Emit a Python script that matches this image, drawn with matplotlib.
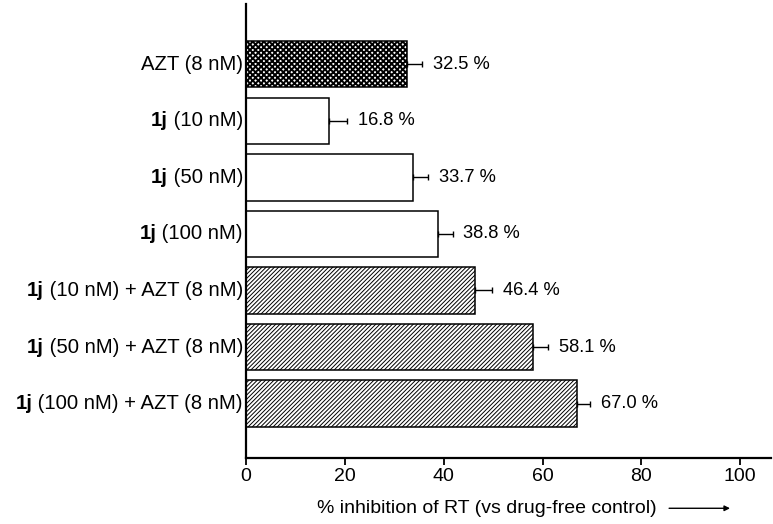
import numpy as np
import matplotlib
matplotlib.use('Agg')
import matplotlib.pyplot as plt
from matplotlib.transforms import offset_copy

plt.rcParams['font.family'] = ['Liberation Sans', 'DejaVu Sans']
plt.rcParams['hatch.linewidth'] = 0.7

# ---- data ----
bold_parts = ['', '1j', '1j', '1j', '1j', '1j', '1j']
label_rest = [
    'AZT (8 nM)',
    ' (10 nM)',
    ' (50 nM)',
    ' (100 nM)',
    ' (10 nM) + AZT (8 nM)',
    ' (50 nM) + AZT (8 nM)',
    ' (100 nM) + AZT (8 nM)',
]
values = [32.5, 16.8, 33.7, 38.8, 46.4, 58.1, 67.0]
errors = [3.2, 3.6, 3.2, 3.0, 3.3, 3.0, 2.6]
hatches = ['xxxxxx', '', '', '', '////////', '////////', '////////']
hatch_lw = [1.4, 0.7, 0.7, 0.7, 0.7, 0.7, 0.7]

fig = plt.figure(figsize=(7.73, 5.24), dpi=100)
ax = fig.add_axes([0.3182, 0.126, 0.6798, 0.866])

y = np.arange(len(values))
for yi, v, e, h, hlw in zip(y, values, errors, hatches, hatch_lw):
    with plt.rc_context({'hatch.linewidth': hlw}):
        ax.barh(yi, v, height=0.82, color='white', edgecolor='black',
                linewidth=1.1, hatch=h)
    ax.errorbar(v, yi, xerr=[[0], [e]], fmt='none', ecolor='black',
                elinewidth=1.0, capsize=2.5, capthick=1.0)
    ax.text(v + e + 2.2, yi, f'{v:.1f} %', va='center', ha='left',
            fontsize=13.2)

ax.set_yticks([])
ax.set_ylim(6.96, -1.06)
ax.set_xlim(0, 106.3)
ax.set_xticks([0, 20, 40, 60, 80, 100])
ax.tick_params(axis='x', labelsize=14, length=5, width=1.3, direction='out', pad=2)

for s in ['top', 'right']:
    ax.spines[s].set_visible(False)
for s in ['left', 'bottom']:
    ax.spines[s].set_linewidth(1.6)

# category labels: bold "1j" followed by regular text
fig.canvas.draw()
renderer = fig.canvas.get_renderer()
lab_tr = offset_copy(ax.get_yaxis_transform(), fig=fig, x=-3, y=0, units='dots')
for yi, b, r in zip(y, bold_parts, label_rest):
    t = ax.text(0, yi, r, ha='right', va='center', fontsize=14.6,
                transform=lab_tr)
    if b:
        bb = t.get_window_extent(renderer)
        xb = ax.transAxes.inverted().transform((bb.x0, 0))[0]
        ax.text(xb, yi, b, ha='right', va='center', fontsize=14.6,
                fontweight='bold', transform=ax.get_yaxis_transform())

fig.text(0.41, 0.030, '% inhibition of RT (vs drug-free control)',
         fontsize=14, ha='left', va='center')
ax.annotate('', xy=(0.948, 0.030), xytext=(0.862, 0.030),
            xycoords='figure fraction', textcoords='figure fraction',
            arrowprops=dict(arrowstyle='-|>', color='black', lw=1.0,
                            mutation_scale=8))

fig.savefig('out.png', dpi=100)
